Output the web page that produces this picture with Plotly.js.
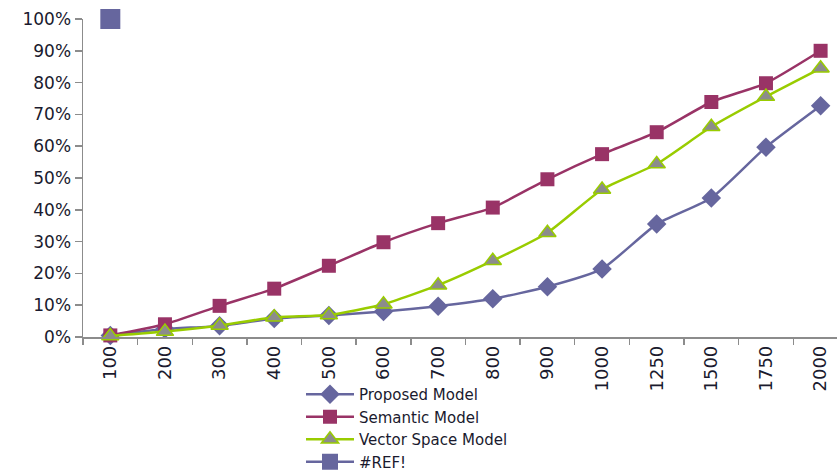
<!DOCTYPE html>
<html>
<head>
<meta charset="utf-8">
<script src="https://cdn.plot.ly/plotly-3.0.1.min.js"></script>
<style>html,body{margin:0;padding:0;background:#fff;}#chart{width:837px;height:472px;}</style>
</head>
<body>
<div id="chart"></div>
<script>
const categories = ["100","200","300","400","500","600","700","800","900","1000","1250","1500","1750","2000"];
const proposedModel = [0.005, 0.025, 0.035, 0.058, 0.068, 0.080, 0.097, 0.120, 0.158, 0.214, 0.355, 0.437, 0.597, 0.727];
const semanticModel = [0.005, 0.040, 0.098, 0.152, 0.224, 0.298, 0.358, 0.407, 0.496, 0.575, 0.644, 0.739, 0.798, 0.900];
const vectorSpaceModel = [0.003, 0.017, 0.036, 0.062, 0.069, 0.103, 0.163, 0.240, 0.328, 0.464, 0.544, 0.661, 0.756, 0.845];
const refCategories = ["100"];
const refValues = [1.0];
const yTickValues = [0,0.1,0.2,0.3,0.4,0.5,0.6,0.7,0.8,0.9,1.0];
const yTickLabels = ["0%","10%","20%","30%","40%","50%","60%","70%","80%","90%","100%"];

const FONT = "DejaVu Sans, Verdana, sans-serif";
const traces = [
  {name:"Proposed Model", x:categories, y:proposedModel, type:"scatter", mode:"lines+markers", cliponaxis:false,
   line:{color:"#66669e", width:2.5, shape:"spline", smoothing:0.5},
   marker:{symbol:"diamond", size:15, color:"#66669e"}},
  {name:"Semantic Model", x:categories, y:semanticModel, type:"scatter", mode:"lines+markers", cliponaxis:false,
   line:{color:"#993366", width:2.5, shape:"spline", smoothing:0.5},
   marker:{symbol:"square", size:14, color:"#993366"}},
  {name:"Vector Space Model", x:categories, y:vectorSpaceModel, type:"scatter", mode:"lines+markers", cliponaxis:false,
   line:{color:"#99cc00", width:2.5, shape:"spline", smoothing:0.5},
   marker:{symbol:"triangle-up", size:15, color:"#8c8c8c", line:{color:"#99cc00", width:1.5}}},
  {name:"#REF!", x:refCategories, y:refValues, type:"scatter", mode:"lines+markers", cliponaxis:false,
   line:{color:"#66669e", width:2.5},
   marker:{symbol:"square", size:20, color:"#66669e"}}
];

const layout = {
  width:837, height:472,
  margin:{l:83, r:0, t:19, b:135},
  paper_bgcolor:"#fff", plot_bgcolor:"#fff",
  font:{family:FONT, size:17, color:"#1a1a2e"},
  showlegend:true,
  legend:{xref:"paper", yref:"container", x:(301-83)/754, y:1-378/472, xanchor:"left", yanchor:"top",
          orientation:"v", font:{family:FONT, size:15, color:"#1a1a2e"}, bgcolor:"rgba(0,0,0,0)",
          tracegroupgap:0, borderwidth:0, itemwidth:48},
  xaxis:{type:"category", categoryorder:"array", categoryarray:categories,
         range:[-0.5, 13.3], showgrid:false, zeroline:false, automargin:false,
         showline:true, linecolor:"#8c8c8c", linewidth:1.5,
         ticks:"outside", ticklen:6, tickcolor:"#8c8c8c", tickwidth:1.5, tickson:"boundaries",
         tickangle:-90, tickfont:{family:FONT, size:18, color:"#1a1a2e"}},
  yaxis:{range:[0,1], tickvals:yTickValues, ticktext:yTickLabels, showgrid:false, zeroline:false, automargin:false,
         showline:true, linecolor:"#8c8c8c", linewidth:1.5,
         ticks:"outside", ticklen:7, tickcolor:"#8c8c8c", tickwidth:1.5,
         tickfont:{family:FONT, size:17, color:"#1a1a2e"}}
};

Plotly.newPlot("chart", traces, layout, {displayModeBar:false, staticPlot:true});
</script>
</body>
</html>
